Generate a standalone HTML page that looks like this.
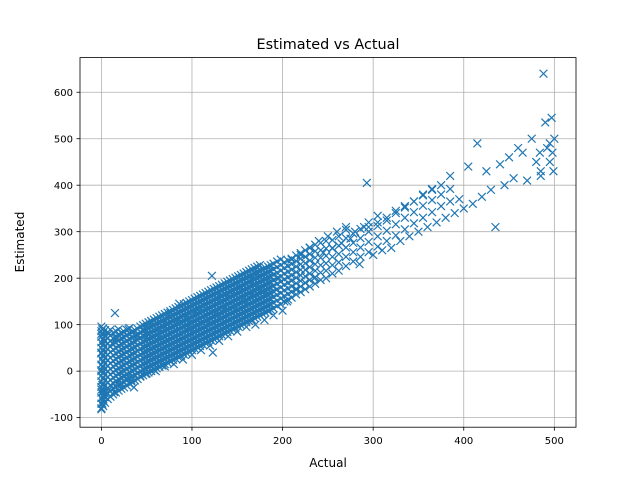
<!DOCTYPE html>
<html><head><meta charset="utf-8"><style>
body{margin:0;background:#fff}
svg text{font-family:"DejaVu Sans","Liberation Sans",sans-serif;fill:#000}
</style></head><body>
<svg id="chart" width="640" height="480" viewBox="0 0 640 480">
<rect width="640" height="480" fill="#fff"/>
<g id="grid"></g>
<g id="marks"></g>
<rect x="80" y="57.6" width="496" height="369.6" fill="none" stroke="#000" stroke-width="0.8"/>
<g id="xticks"></g>
<g id="yticks"></g>
<text x="328" y="49" font-size="14.4" text-anchor="middle">Estimated vs Actual</text>
<text x="328" y="467" font-size="12" text-anchor="middle">Actual</text>
<text x="24" y="242" font-size="12" text-anchor="middle" transform="rotate(-90 24 242)">Estimated</text>
</svg>
<script>
const xTicks=[0,100,200,300,400,500];
const yTicks=[-100,0,100,200,300,400,500,600];
const actual=[0,0,0,0,0,1,1,1,1,2,2,3,3,5,5,8,8,10,12,14,15,16,18,20,22,25,28,30,33,36,40,43,46,50,53,56,60,63,66,70,73,76,80,83,86,90,93,96,100,103,106,110,113,116,120,122,123,126,130,133,136,140,143,146,150,153,156,160,163,166,170,173,176,180,183,186,190,193,196,200,205,210,215,220,225,230,235,240,245,250,255,260,265,270,275,280,285,290,293,295,300,305,310,315,320,325,330,335,340,345,350,355,360,365,370,375,380,385,390,395,400,405,410,415,420,425,430,435,440,445,450,455,460,465,470,475,480,484,485,485,488,490,492,495,495,497,498,499,500];
const estimated=[-80,-40,0,40,80,-70,-30,10,90,-45,35,-55,65,-50,75,-40,80,-30,60,-45,125,70,-25,75,-30,0,-15,90,-20,-35,75,-10,90,-5,80,105,0,90,70,10,100,125,15,105,145,25,115,95,35,125,100,45,140,110,55,205,40,125,65,160,135,75,170,140,85,180,155,95,195,165,100,210,175,110,165,190,120,175,200,130,150,240,175,250,190,265,200,280,255,290,265,300,275,310,285,300,230,310,405,310,250,320,260,330,265,345,280,355,290,365,300,380,310,390,320,400,330,420,340,370,350,440,360,490,375,430,390,310,445,400,460,415,480,470,410,500,450,470,430,420,640,535,480,490,450,545,470,430,500,565,480,455];
const coreActual=[0,2,4,7,10,13,16,19,22,25,28,31,34,37,40,43,46,49,52,55,58,61,64,67,70,73,76,79,82,85,88,91,94,97,100,103,106,109,112,115,118,121,124,127,130,133,136,139,142,145,148,151,154,157,160,163,166,169,172,175,178,181,184,187,190,194,198,202,206,210,215,220,225,230,236,242,248,255,262,270,278,286,295,305,315,325,335,345,355,365,375,385];
const coreEstimated=["-82 -70 -58 -46 -34 -22 -10 2 14 26 38 50 62 74 86 96","-75 -63 -51 -39 -27 -15 -3 9 21 33 45 57 69 81 92","-68 -56 -44 -32 -20 -8 4 16 28 40 52 64 76 88","-60 -48 -36 -24 -12 0 12 24 36 48 60 72 84","-55 -43 -31 -19 -7 5 17 29 41 53 65 77 89","-50 -38 -26 -14 -2 10 22 34 46 58 70 82","-46 -34 -22 -10 2 14 26 38 50 62 74 86","-42 -30 -18 -6 6 18 30 42 54 66 78 90","-38 -26 -14 -2 10 22 34 46 58 70 82","-35 -23 -11 1 13 25 37 49 61 73 85","-31 -19 -7 5 17 29 41 53 65 77 89","-27 -15 -3 9 21 33 45 57 69 81 93","-24 -12 0 12 24 36 48 60 72 84","-20 -8 4 16 28 40 52 64 76 88","-17 -5 7 19 31 43 55 67 79 91","-12 0 12 24 36 48 60 72 84 96","-9 3 15 27 39 51 63 75 87 99","-6 6 18 30 42 54 66 78 90 102","-3 9 21 33 45 57 69 81 93 105","0 12 24 36 48 60 72 84 96 108","3 15 27 39 51 63 75 87 99 111","6 18 30 42 54 66 78 90 102 114","9 21 33 45 57 69 81 93 105 117","12 24 36 48 60 72 84 96 108 120","15 27 39 51 63 75 87 99 111 123","18 30 42 54 66 78 90 102 114 126","21 33 45 57 69 81 93 105 117 129","24 36 48 60 72 84 96 108 120 132","27 39 51 63 75 87 99 111 123 135","30 42 54 66 78 90 102 114 126 138","33 45 57 69 81 93 105 117 129 141","36 48 60 72 84 96 108 120 132 144","39 51 63 75 87 99 111 123 135 147","42 54 66 78 90 102 114 126 138 150","45 57 69 81 93 105 117 129 141 153","48 60 72 84 96 108 120 132 144 156","51 63 75 87 99 111 123 135 147 159","54 66 78 90 102 114 126 138 150 162","57 69 81 93 105 117 129 141 153 165","60 72 84 96 108 120 132 144 156 168","63 75 87 99 111 123 135 147 159 171","66 78 90 102 114 126 138 150 162 174","69 81 93 105 117 129 141 153 165 177","72 84 96 108 120 132 144 156 168 180","75 87 99 111 123 135 147 159 171 183","78 90 102 114 126 138 150 162 174 186","81 93 105 117 129 141 153 165 177 189","84 96 108 120 132 144 156 168 180 192","87 99 111 123 135 147 159 171 183 195","90 102 114 126 138 150 162 174 186 198","93 105 117 129 141 153 165 177 189 201","96 108 120 132 144 156 168 180 192 204","99 111 123 135 147 159 171 183 195 207","102 114 126 138 150 162 174 186 198 210","105 117 129 141 153 165 177 189 201 213","108 120 132 144 156 168 180 192 204 216","111 123 135 147 159 171 183 195 207 219","114 126 138 150 162 174 186 198 210 222","117 129 141 153 165 177 189 201 213 225","120 132 144 156 168 180 192 204 216 228","123 135 147 159 171 183 195 207 219","126 138 150 162 174 186 198 210 222","129 141 153 165 177 189 201 213 225","132 144 156 168 180 192 204 216 228","135 147 159 171 183 195 207 219 231","140 152 164 176 188 200 212 224 236","144 156 168 180 192 204 216 228 240","150 162 174 186 198 210 222 234","154 166 178 190 202 214 226 238","158 170 182 194 206 218 230 242","165 177 189 201 213 225 237 249","170 182 194 206 218 230 242 254","176 190 204 218 232 246 260","182 196 210 224 238 252 266","188 202 216 230 244 258 272","196 212 228 244 260 276","200 216 232 248 264 280","210 228 246 264 282","216 234 252 270 290","226 246 266 286 304","236 256 276 296","246 266 286 306","256 278 300 320","268 290 312 334","280 302 324","292 316 340","305 330 352","318 342 365","330 356 378","342 368 392","355 380","365 392"];
const NS='http://www.w3.org/2000/svg';
const X0=80,X1=576,Y0=57.6,Y1=427.2,xmin=-23.6,xmax=523.9,ymin=-120.6,ymax=674.5;
function sx(v){return X0+(v-xmin)/(xmax-xmin)*(X1-X0);}
function sy(v){return Y1-(v-ymin)/(ymax-ymin)*(Y1-Y0);}
function mk(t,a,p){const e=document.createElementNS(NS,t);for(const k in a)e.setAttribute(k,a[k]);p.appendChild(e);return e;}
const grid=document.getElementById('grid'),xt=document.getElementById('xticks'),yt=document.getElementById('yticks'),marks=document.getElementById('marks');
xTicks.forEach(v=>{const x=sx(v);
 const g=mk('line',{x1:x,x2:x,y1:Y0,y2:Y1,stroke:'#b0b0b0','stroke-width':0.8},grid);
 
 
 const t=mk('line',{x1:x,x2:x,y1:Y1,y2:Y1+3.5,stroke:'#000','stroke-width':0.8},xt);
 
 
 const l=mk('text',{x:x,y:Y1+17,'font-size':10,'text-anchor':'middle'},xt);l.textContent=v;
 
 
});
yTicks.forEach(v=>{const y=sy(v);
 const g=mk('line',{x1:X0,x2:X1,y1:y,y2:y,stroke:'#b0b0b0','stroke-width':0.8},grid);
 
 
 const t=mk('line',{x1:X0-3.5,x2:X0,y1:y,y2:y,stroke:'#000','stroke-width':0.8},yt);
 
 
 const l=mk('text',{x:X0-7,y:y+3.6,'font-size':10,'text-anchor':'end'},yt);l.textContent=v;
 
 
});
const r=3.9;
function drawPoint(a,e){const x=sx(a),y=sy(e);
 const p=mk('path',{d:`M${x-r},${y-r}L${x+r},${y+r}M${x-r},${y+r}L${x+r},${y-r}`,stroke:'#1f77b4','stroke-width':1.2,fill:'none'},marks);
 
 
}
for(let i=0;i<coreActual.length;i++){coreEstimated[i].split(' ').map(Number).forEach(e=>drawPoint(coreActual[i],e));}
for(let i=0;i<actual.length;i++){drawPoint(actual[i],estimated[i]);}
</script>
</body></html>
